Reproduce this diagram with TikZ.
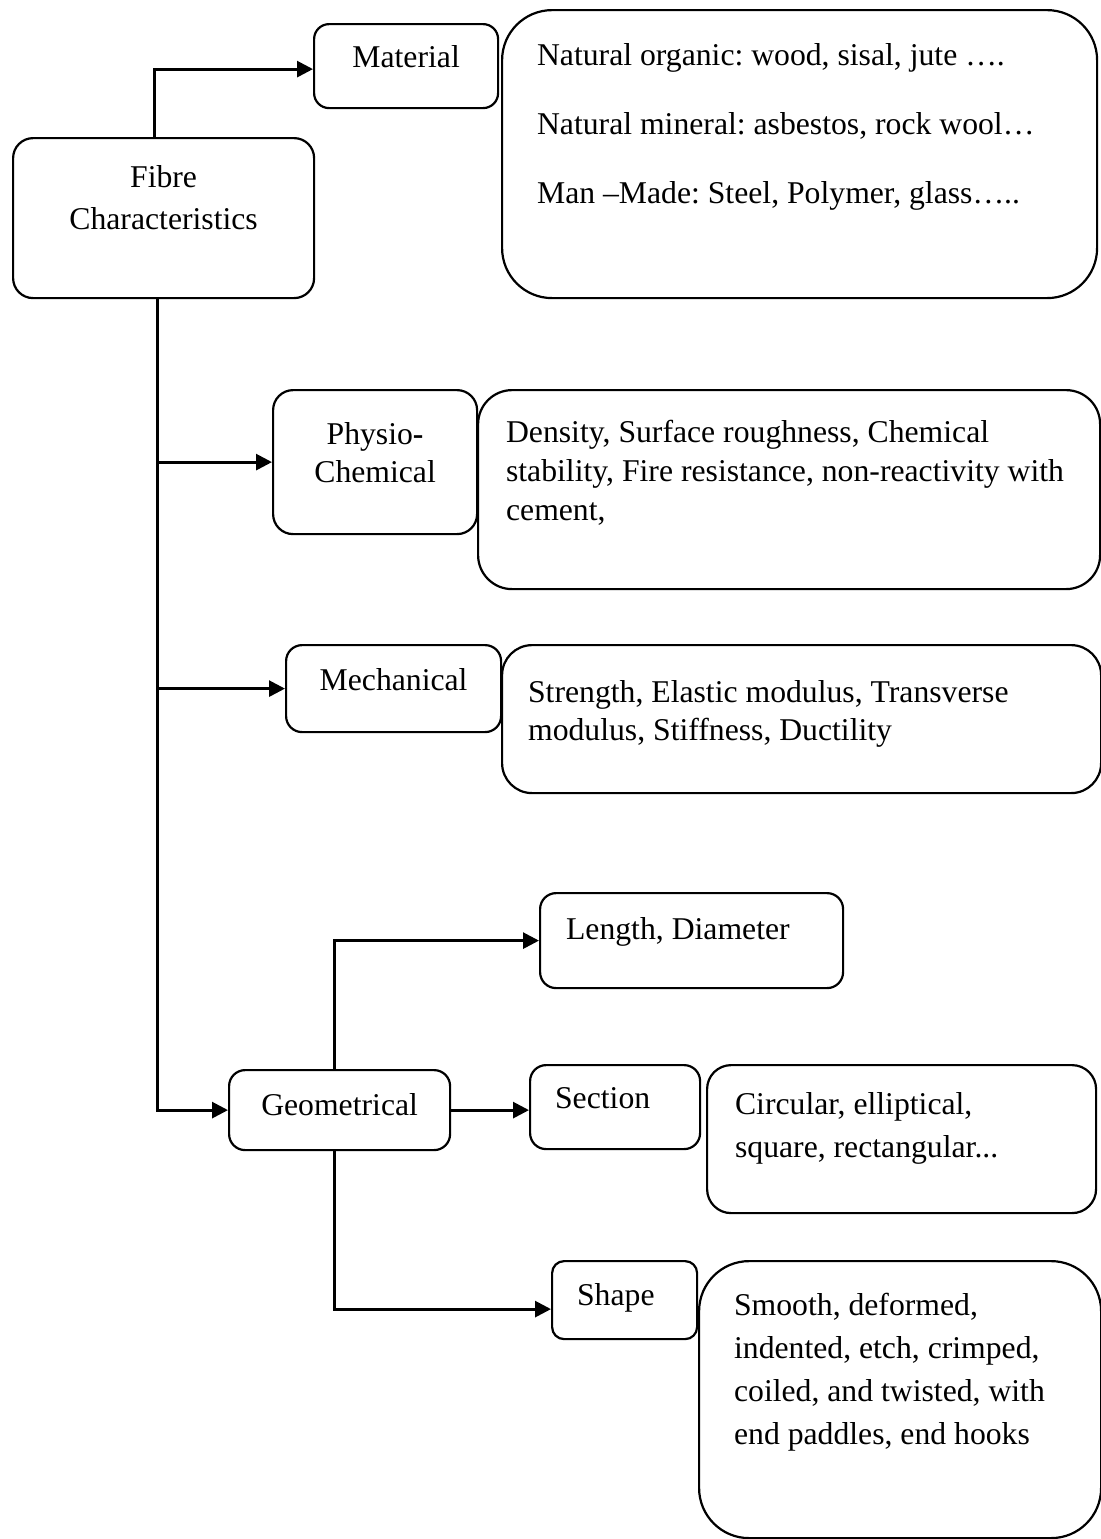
\documentclass[tikz,border=0pt]{standalone}
\usepackage{fontspec}
\setmainfont{Liberation Serif}
\usetikzlibrary{arrows.meta}

\newlength{\pxl}
\setlength{\pxl}{0.5pt}
% width, height, top gap, text (all sizes in pixels of the sketch)
\newcommand{\ccell}[4]{\parbox[t][#2\pxl][t]{#1\pxl}{\vspace*{#3\pxl}\centering #4}}
% width, height, top gap, left gap, text
\newcommand{\lcell}[5]{\parbox[t][#2\pxl][t]{#1\pxl}{\vspace*{#3\pxl}\raggedright\leftskip=#4\pxl #5}}
\frenchspacing

\begin{document}
\begin{tikzpicture}[x=0.5pt, y=-0.5pt,
		rbox/.style={draw, line width=1.1pt, rounded corners=#1, anchor=north west, inner sep=0pt,
			font=\fontsize{15.85}{20.5}\selectfont},
		rbox/.default=8pt,
		link/.style={line width=1.4pt, -{Triangle[length=8pt, width=8pt]}}
	]
	\useasboundingbox (0,0) rectangle (1101,1539);

	\node[rbox=10pt, font=\fontsize{15.85}{21}\selectfont] (fibre) at (12,137) {\ccell{301}{160}{27}{Fibre\\Characteristics}};
	\node[rbox=7.5pt] (material) at (313,23) {\ccell{184}{84}{21}{Material}};
	\node[rbox=25pt] (matlist) at (501,9) {\lcell{595}{288}{33}{35}{Natural organic: wood, sisal, jute ….\\[14pt]
			Natural mineral: asbestos, rock wool…\\[14pt]
			Man –Made: Steel, Polymer, glass…..}};

	\node[rbox=10pt, font=\fontsize{15.85}{19}\selectfont] (physio) at (272,389) {\ccell{204}{144}{32}{Physio\textbf{-}\\Chemical}};
	\node[rbox=17pt, font=\fontsize{15.85}{19.5}\selectfont] (physlist) at (477,389) {\lcell{622}{199}{30}{28}{Density, Surface roughness, Chemical\\
			stability, Fire resistance, non-reactivity with\\
			cement,}};

	\node[rbox] (mech) at (285,644) {\ccell{215}{87}{23}{Mechanical}};
	\node[rbox=15pt, font=\fontsize{15.85}{19}\selectfont] (mechlist) at (501,644) {\lcell{599}{148}{35}{26}{Strength, Elastic modulus, Transverse\\
			modulus, Stiffness, Ductility}};

	\node[rbox] (geom) at (228,1069) {\ccell{221}{80}{23}{Geometrical}};
	\node[rbox] (length) at (539,892) {\lcell{303}{95}{24}{26}{Length, Diameter}};
	\node[rbox] (section) at (529,1064) {\lcell{170}{84}{22}{25}{Section}};
	\node[rbox=12pt, font=\fontsize{15.85}{21.5}\selectfont] (seclist) at (706,1064) {\lcell{389}{148}{27}{28}{Circular, elliptical,\\
			square, rectangular...}};
	\node[rbox=6pt] (shape) at (551,1260) {\lcell{145}{78}{22}{25}{Shape}};
	\node[rbox=25pt, font=\fontsize{15.85}{21.5}\selectfont] (shapelist) at (698,1260) {\lcell{402}{277}{32}{35}{Smooth, deformed,\\
			indented, etch, crimped,\\
			coiled, and twisted, with\\
			end paddles, end hooks}};

	\coordinate (top) at ([xshift=-4.75pt]fibre.north);
	\coordinate (trunk) at ([xshift=-3.25pt]fibre.south);
	\coordinate (up) at ([xshift=-2.75pt]geom.north);
	\coordinate (down) at ([xshift=-2.75pt]geom.south);

	\draw[link] (top) |- ([yshift=-1.5pt]material.west);
	\draw[line width=1.4pt] (trunk) -- (trunk |- physio.west);
	\draw[link] (trunk |- physio.west) -- (physio.west);
	\draw[link] (trunk |- mech.west) -- (mech.west);
	\draw[link] (trunk) |- (geom.west);
	\draw[link] (up) |- (length.west);
	\draw[link] (geom.east) -- (geom.east -| section.west);
	\draw[link] (down) |- ([yshift=-4.5pt]shape.west);
\end{tikzpicture}
\end{document}
